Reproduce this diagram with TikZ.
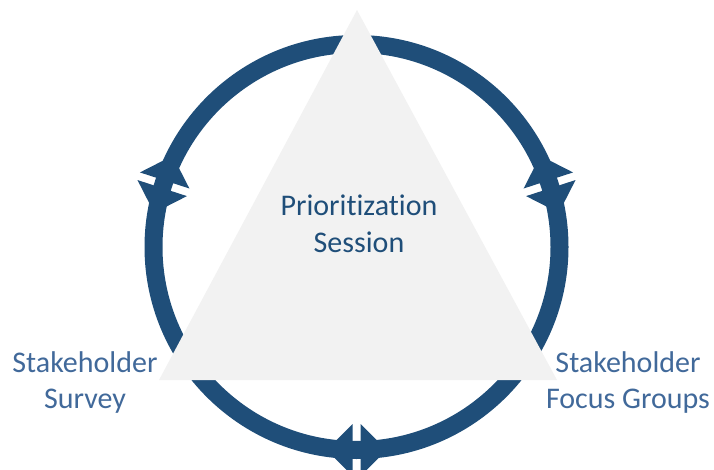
\documentclass[tikz,border=0pt]{standalone}
\usepackage{fontspec}
\setmainfont{Carlito}[Ligatures=NoCommon]
\definecolor{ringblue}{RGB}{31,78,121}
\definecolor{sideblue}{RGB}{65,105,154}
\definecolor{trigray}{RGB}{242,242,242}
\tikzset{
  twinhead/.pic={
    \fill[ringblue] (-4,-26) -- (-30,0) -- (-4,26) -- cycle;
    \fill[ringblue] (4,-26) -- (30,0) -- (4,26) -- cycle;
  },
  label text/.style={anchor=base, inner sep=0pt, align=center, text=sideblue,
    font=\fontsize{30}{36}\selectfont},
}
\begin{document}
\begin{tikzpicture}[x=1pt,y=-1pt]
\useasboundingbox (0,0) rectangle (714,470);

%Circle [ring]
\node [circle, draw=ringblue, line width=18pt, minimum size=406pt, inner sep=0pt, outer sep=0pt] (ring) at (356.5,247) {};
%Arrow heads on the ring
\pic [rotate=108] at (ring.18) {twinhead};
\pic [rotate=252] at (ring.162) {twinhead};
\pic [rotate=0] at (ring.270) {twinhead};

%Triangle
\coordinate (apex) at (357,10);
\coordinate (left corner) at (159,380);
\coordinate (right corner) at (557,380);
\fill [trigray] (apex) -- (left corner) -- (right corner) -- cycle;

% Text Node (base = last line)
\node [label text, text=ringblue] (session) at (359,252) {Prioritization\\Session};
% Text Node
\node [label text] (survey) at (85,408) {Stakeholder\\Survey};
% Text Node
\node [label text] (focus) at (628,408) {Stakeholder\\Focus Groups};
\end{tikzpicture}
\end{document}
